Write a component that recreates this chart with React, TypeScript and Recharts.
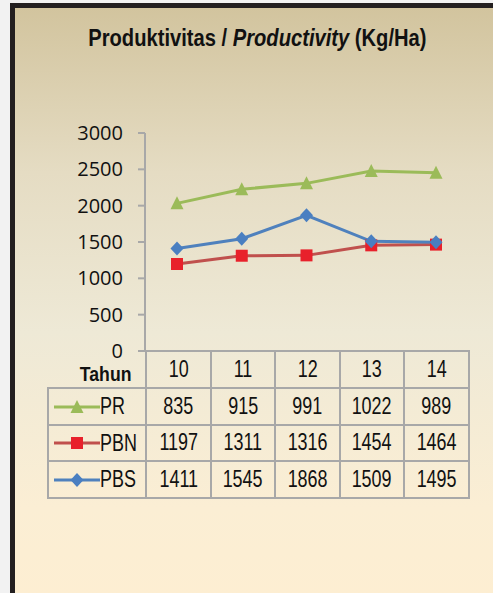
import type { ReactNode } from 'react'
import { Area, ComposedChart, Line, XAxis, YAxis } from 'recharts'

const years = ['10', '11', '12', '13', '14']
const prValues = [835, 915, 991, 1022, 989]
const pbnValues = [1197, 1311, 1316, 1454, 1464]
const pbsValues = [1411, 1545, 1868, 1509, 1495]
const yTicks = [0, 500, 1000, 1500, 2000, 2500, 3000]

const data = years.map((year, i) => ({
  year,
  PR: prValues[i],
  PBN: pbnValues[i],
  PBS: pbsValues[i]
}))

// no Arial Narrow in the sandbox, so squeeze Liberation Sans instead
const FONT = "'Liberation Sans', Arial, sans-serif"
const GRID = '#a8a8a8'

type Shape = 'triangle' | 'square' | 'diamond'

const series: { key: string; line: string; marker: string; shape: Shape; values: number[] }[] = [
  { key: 'PR', line: '#9bbb59', marker: '#9bbb59', shape: 'triangle', values: prValues },
  { key: 'PBN', line: '#c0504d', marker: '#e8212b', shape: 'square', values: pbnValues },
  { key: 'PBS', line: '#4f81bd', marker: '#4a7fc1', shape: 'diamond', values: pbsValues }
]

function markerPath(shape: Shape, cx: number, cy: number) {
  if (shape === 'triangle') return `M${cx},${cy - 7} L${cx + 6.5},${cy + 6} L${cx - 6.5},${cy + 6} Z`
  if (shape === 'square') return `M${cx - 6},${cy - 6} h12 v12 h-12 Z`
  return `M${cx},${cy - 7} L${cx + 6.5},${cy} L${cx},${cy + 7} L${cx - 6.5},${cy} Z`
}

function dotFor(shape: Shape, fill: string) {
  return (props: any) => {
    const { cx, cy, index } = props
    if (cx == null || cy == null) return <g key={index} />
    return <path key={index} d={markerPath(shape, cx, cy)} fill={fill} />
  }
}

function Narrow({ children, scale = 0.78, origin = 'center' }: { children: ReactNode; scale?: number; origin?: string }) {
  return (
    <span style={{ display: 'inline-block', transform: `scaleX(${scale})`, transformOrigin: origin, whiteSpace: 'nowrap' }}>
      {children}
    </span>
  )
}

function LegendKey({ shape, line, marker }: { shape: Shape; line: string; marker: string }) {
  return (
    <svg width={46} height={16} style={{ verticalAlign: 'middle' }}>
      <line x1={0} y1={8} x2={46} y2={8} stroke={line} strokeWidth={3} />
      <path d={markerPath(shape, 23, 8)} fill={marker} />
    </svg>
  )
}

const cellBorder = `2px solid ${GRID}`

export default function App() {
  return (
    <div style={{ position: 'absolute', left: 0, top: 0, width: 493, height: 593, background: '#f2f2f2', overflow: 'hidden' }}>
      <div
        style={{
          position: 'absolute',
          left: 10,
          top: 3,
          width: 500,
          height: 588,
          borderLeft: '5px solid #231f20',
          borderTop: '5px solid #231f20',
          borderBottom: '2px solid #8a8272',
          background: 'linear-gradient(to bottom, #d2c49e 0%, #e5dcc3 28%, #eee9d6 55%, #fbeed4 85%, #fdeed2 100%)'
        }}
      />
      <div
        style={{
          position: 'absolute',
          left: 0,
          width: 514,
          top: 26,
          textAlign: 'center',
          fontFamily: FONT,
          fontWeight: 'bold',
          fontSize: 24,
          lineHeight: 1,
          color: '#111'
        }}
      >
        <Narrow scale={0.84}>
          Produktivitas / <i>Productivity</i> (Kg/Ha)
        </Narrow>
      </div>

      <div style={{ position: 'absolute', left: 0, top: 0 }}>
        <ComposedChart width={493} height={593} data={data} margin={{ top: 133, right: 25, bottom: 242, left: 85 }}>
          <XAxis
            dataKey="year"
            tick={false}
            tickLine={false}
            height={0}
            padding={{ left: 32, right: 32 }}
            axisLine={{ stroke: GRID, strokeWidth: 2 }}
          />
          <YAxis
            width={60}
            domain={[0, 3000]}
            ticks={yTicks}
            interval={0}
            tickSize={7}
            tickMargin={15}
            axisLine={{ stroke: GRID, strokeWidth: 2 }}
            tickLine={{ stroke: GRID, strokeWidth: 2 }}
            tick={{ fill: '#111', fontSize: 20, fontFamily: "'Open Sans', sans-serif" }}
          />
          <Area
            dataKey="PBN"
            stackId="s"
            type="linear"
            fill="none"
            stroke="#c0504d"
            strokeWidth={3}
            dot={dotFor('square', '#e8212b')}
            activeDot={false}
            isAnimationActive={false}
          />
          <Area
            dataKey="PR"
            stackId="s"
            type="linear"
            fill="none"
            stroke="#9bbb59"
            strokeWidth={3}
            dot={dotFor('triangle', '#9bbb59')}
            activeDot={false}
            isAnimationActive={false}
          />
          <Line
            dataKey="PBS"
            type="linear"
            stroke="#4f81bd"
            strokeWidth={3}
            dot={dotFor('diamond', '#4a7fc1')}
            activeDot={false}
            isAnimationActive={false}
          />
        </ComposedChart>
      </div>

      <div
        style={{
          position: 'absolute',
          left: 60,
          width: 71,
          top: 363,
          textAlign: 'right',
          fontFamily: FONT,
          fontWeight: 'bold',
          fontSize: 21,
          lineHeight: 1,
          color: '#111'
        }}
      >
        <Narrow scale={0.84} origin="right">Tahun</Narrow>
      </div>

      <table
        style={{
          position: 'absolute',
          left: 47,
          top: 350,
          width: 421,
          borderCollapse: 'collapse',
          tableLayout: 'fixed',
          fontFamily: FONT,
          fontSize: 23,
          lineHeight: 1,
          color: '#111'
        }}
      >
        <colgroup>
          <col style={{ width: 98 }} />
          {years.map(y => (
            <col key={y} style={{ width: 64.6 }} />
          ))}
        </colgroup>
        <tbody>
          <tr style={{ height: 37 }}>
            <td style={{ padding: 0 }} />
            {years.map(y => (
              <td key={y} style={{ border: cellBorder, textAlign: 'center', padding: 0 }}>
                <Narrow>{y}</Narrow>
              </td>
            ))}
          </tr>
          {series.map(s => (
            <tr key={s.key} style={{ height: 36.5 }}>
              <td style={{ border: cellBorder, padding: '0 0 0 5px', whiteSpace: 'nowrap' }}>
                <LegendKey shape={s.shape} line={s.line} marker={s.marker} />
                <span style={{ verticalAlign: 'middle' }}>
                  <Narrow origin="left">{s.key}</Narrow>
                </span>
              </td>
              {s.values.map((v, i) => (
                <td key={i} style={{ border: cellBorder, textAlign: 'center', padding: 0 }}>
                  <Narrow>{v}</Narrow>
                </td>
              ))}
            </tr>
          ))}
        </tbody>
      </table>
    </div>
  )
}
